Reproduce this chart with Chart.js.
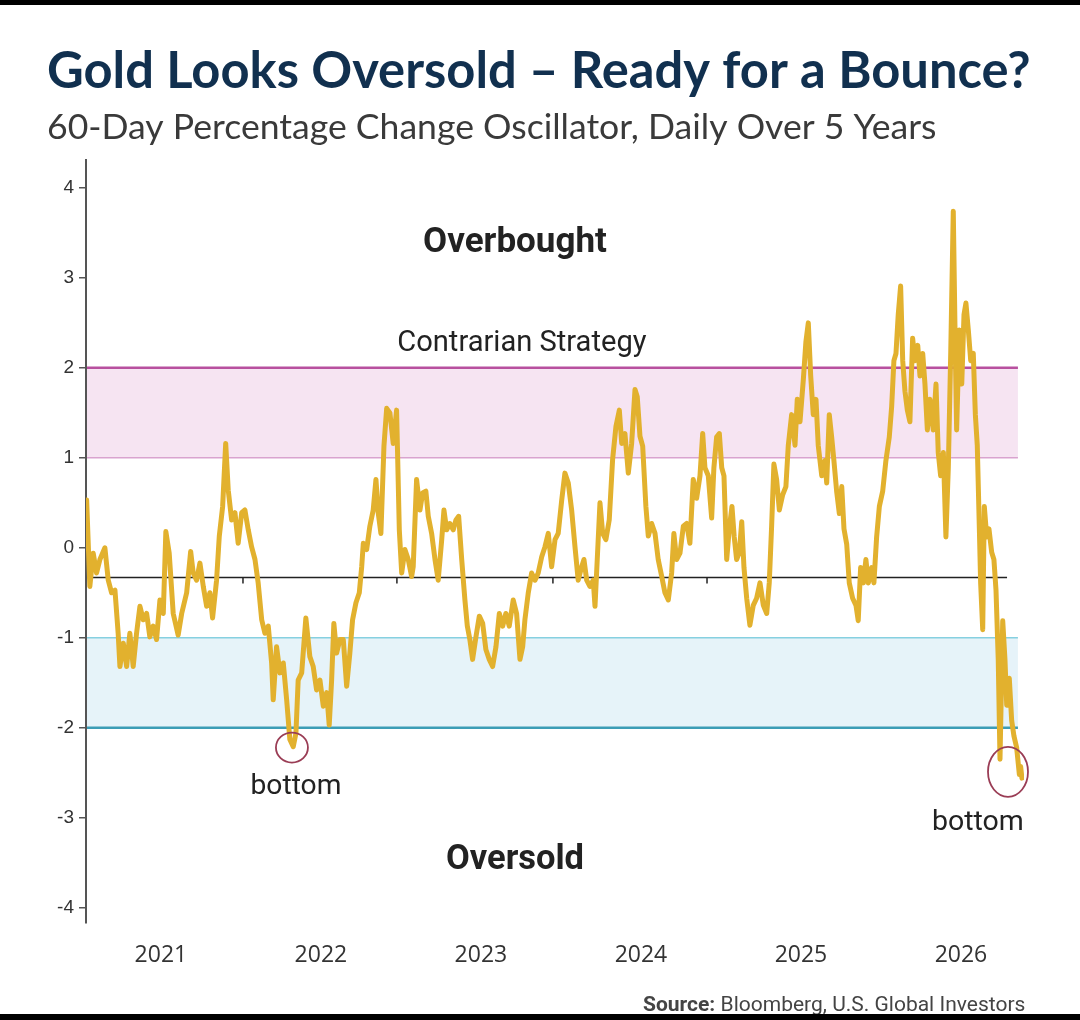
<!DOCTYPE html>
<html>
<head>
<meta charset="utf-8">
<title>Gold Looks Oversold</title>
<script src="https://cdn.jsdelivr.net/npm/chart.js@4.4.1/dist/chart.umd.min.js"></script>
<style>
  html, body { margin: 0; padding: 0; background: #fff; }
  #wrap { width: 1080px; height: 1020px; }
</style>
</head>
<body>
<div id="wrap"><canvas id="goldChart" width="1080" height="1020"></canvas></div>
<script>
'use strict';

// decimal years
var years = [
  2020.536, 2020.556, 2020.577, 2020.598, 2020.619, 2020.650, 2020.671, 2020.692, 2020.713, 2020.733,
  2020.744, 2020.765, 2020.786, 2020.806, 2020.827, 2020.848, 2020.869, 2020.890, 2020.911, 2020.931,
  2020.952, 2020.973, 2020.994, 2021.015, 2021.031, 2021.052, 2021.077, 2021.108, 2021.130, 2021.161,
  2021.186, 2021.202, 2021.223, 2021.244, 2021.265, 2021.286, 2021.306, 2021.323, 2021.348, 2021.365,
  2021.386, 2021.405, 2021.421, 2021.442, 2021.463, 2021.483, 2021.505, 2021.525, 2021.546, 2021.567,
  2021.588, 2021.608, 2021.630, 2021.650, 2021.671, 2021.692, 2021.702, 2021.723, 2021.744, 2021.765,
  2021.786, 2021.806, 2021.827, 2021.844, 2021.858, 2021.880, 2021.906, 2021.931, 2021.952, 2021.973,
  2021.994, 2022.015, 2022.036, 2022.052, 2022.067, 2022.081, 2022.098, 2022.119, 2022.140, 2022.161,
  2022.181, 2022.198, 2022.219, 2022.240, 2022.255, 2022.265, 2022.286, 2022.306, 2022.327, 2022.344,
  2022.358, 2022.375, 2022.394, 2022.411, 2022.431, 2022.452, 2022.473, 2022.490, 2022.505, 2022.525,
  2022.546, 2022.567, 2022.577, 2022.598, 2022.619, 2022.636, 2022.656, 2022.671, 2022.692, 2022.713,
  2022.733, 2022.755, 2022.769, 2022.786, 2022.806, 2022.827, 2022.844, 2022.861, 2022.880, 2022.900,
  2022.915, 2022.931, 2022.948, 2022.969, 2022.990, 2023.011, 2023.031, 2023.052, 2023.073, 2023.094,
  2023.115, 2023.136, 2023.156, 2023.177, 2023.202, 2023.223, 2023.244, 2023.261, 2023.275, 2023.296,
  2023.317, 2023.338, 2023.358, 2023.380, 2023.400, 2023.421, 2023.442, 2023.463, 2023.483, 2023.505,
  2023.525, 2023.546, 2023.567, 2023.588, 2023.608, 2023.630, 2023.644, 2023.661, 2023.681, 2023.702,
  2023.713, 2023.727, 2023.744, 2023.761, 2023.781, 2023.802, 2023.823, 2023.844, 2023.865, 2023.880,
  2023.900, 2023.921, 2023.942, 2023.963, 2023.977, 2023.994, 2024.011, 2024.031, 2024.046, 2024.067,
  2024.088, 2024.108, 2024.130, 2024.150, 2024.171, 2024.192, 2024.206, 2024.223, 2024.244, 2024.265,
  2024.286, 2024.306, 2024.327, 2024.348, 2024.369, 2024.386, 2024.400, 2024.421, 2024.442, 2024.456,
  2024.473, 2024.490, 2024.505, 2024.519, 2024.536, 2024.552, 2024.569, 2024.583, 2024.598, 2024.615,
  2024.630, 2024.644, 2024.661, 2024.681, 2024.702, 2024.723, 2024.744, 2024.765, 2024.786, 2024.802,
  2024.817, 2024.831, 2024.848, 2024.865, 2024.886, 2024.906, 2024.921, 2024.942, 2024.963, 2024.977,
  2024.994, 2025.015, 2025.031, 2025.046, 2025.061, 2025.077, 2025.094, 2025.108, 2025.130, 2025.150,
  2025.161, 2025.177, 2025.192, 2025.206, 2025.223, 2025.240, 2025.255, 2025.269, 2025.286, 2025.302,
  2025.323, 2025.344, 2025.358, 2025.373, 2025.390, 2025.406, 2025.421, 2025.442, 2025.456, 2025.473,
  2025.490, 2025.511, 2025.531, 2025.552, 2025.567, 2025.581, 2025.594, 2025.608, 2025.623, 2025.636,
  2025.650, 2025.665, 2025.681, 2025.698, 2025.713, 2025.730, 2025.744, 2025.761, 2025.775, 2025.790,
  2025.806, 2025.827, 2025.844, 2025.858, 2025.873, 2025.890, 2025.906, 2025.921, 2025.936, 2025.952,
  2025.965, 2025.973, 2025.990, 2026.005, 2026.019, 2026.031, 2026.046, 2026.061, 2026.077, 2026.090,
  2026.102, 2026.115, 2026.123, 2026.136, 2026.146, 2026.161, 2026.175, 2026.192, 2026.206, 2026.219,
  2026.233, 2026.244, 2026.261, 2026.275, 2026.286, 2026.302, 2026.317, 2026.331, 2026.348, 2026.365,
  2026.373, 2026.381
];

// 60-day % change oscillator
var oscillator = [
  0.53, -0.43, -0.06, -0.28, -0.13, 0.00, -0.36, -0.50, -0.47, -0.95,
  -1.32, -1.06, -1.32, -0.95, -1.32, -0.95, -0.65, -0.80, -0.73, -0.99,
  -0.87, -1.02, -0.58, -0.73, 0.18, -0.06, -0.73, -0.97, -0.73, -0.50,
  -0.04, -0.28, -0.36, -0.17, -0.43, -0.65, -0.50, -0.78, -0.36, 0.13,
  0.46, 1.16, 0.64, 0.31, 0.39, 0.05, 0.39, 0.42, 0.20, 0.01,
  -0.13, -0.39, -0.80, -0.95, -0.87, -1.28, -1.69, -1.10, -1.39, -1.28,
  -1.69, -2.13, -2.21, -2.06, -1.47, -1.39, -0.78, -1.21, -1.32, -1.58,
  -1.47, -1.76, -1.61, -1.97, -1.47, -0.84, -1.17, -1.02, -1.02, -1.54,
  -1.17, -0.80, -0.61, -0.50, -0.21, 0.05, -0.02, 0.24, 0.42, 0.76,
  0.39, 0.16, 1.13, 1.55, 1.50, 1.16, 1.53, 0.20, -0.28, -0.02,
  -0.13, -0.32, -0.21, 0.76, 0.42, 0.61, 0.63, 0.35, 0.16, -0.13,
  -0.36, 0.09, 0.42, 0.20, 0.27, 0.20, 0.31, 0.35, -0.13, -0.58,
  -0.87, -1.02, -1.24, -0.99, -0.76, -0.84, -1.13, -1.24, -1.32, -1.10,
  -0.73, -0.87, -0.73, -0.87, -0.58, -0.73, -1.24, -1.10, -0.80, -0.50,
  -0.28, -0.36, -0.28, -0.10, 0.01, 0.16, -0.21, 0.09, 0.16, 0.53,
  0.83, 0.72, 0.42, 0.01, -0.36, -0.21, -0.13, -0.36, -0.43, -0.36,
  -0.65, -0.13, 0.50, 0.16, 0.09, 0.31, 0.98, 1.35, 1.53, 1.16,
  1.27, 0.83, 1.16, 1.76, 1.68, 1.24, 1.13, 0.46, 0.13, 0.27,
  0.16, -0.13, -0.32, -0.50, -0.58, -0.28, 0.16, -0.13, -0.06, 0.24,
  0.27, 0.05, 0.76, 0.55, 0.80, 1.27, 0.89, 0.80, 0.33, 0.89,
  1.23, 1.27, 0.89, 0.80, -0.13, 0.21, 0.46, 0.12, -0.13, -0.05,
  0.29, -0.22, -0.56, -0.86, -0.64, -0.56, -0.39, -0.64, -0.73, -0.39,
  0.25, 0.93, 0.76, 0.42, 0.59, 0.68, 1.14, 1.48, 1.14, 1.65,
  1.40, 1.87, 2.29, 2.50, 1.91, 1.48, 1.65, 1.14, 0.80, 0.97,
  0.72, 1.48, 1.23, 0.97, 0.63, 0.38, 0.68, 0.21, 0.04, -0.39,
  -0.56, -0.64, -0.81, -0.22, -0.39, -0.13, -0.39, -0.22, -0.39, 0.12,
  0.46, 0.63, 0.97, 1.23, 1.57, 2.08, 2.16, 2.59, 2.91, 2.08,
  1.74, 1.53, 1.40, 2.33, 2.08, 2.25, 1.91, 2.16, 1.82, 1.31,
  1.65, 1.31, 1.82, 1.06, 0.80, 1.06, 0.12, 0.89, 2.16, 3.74,
  2.16, 1.31, 2.42, 1.82, 2.59, 2.72, 2.42, 2.08, 2.16, 1.48,
  1.14, 0.21, -0.39, -0.91, 0.46, 0.12, 0.21, -0.05, -0.13, -0.47,
  -1.24, -2.35, -0.81, -1.24, -1.75, -1.45, -1.92, -2.09, -2.22, -2.52,
  -2.43, -2.56
];

var yearTicks = [2021, 2022, 2023, 2024, 2025, 2026];
var valueTicks = [-4, -3, -2, -1, 0, 1, 2, 3, 4];
var overboughtBand = [1, 2];
var oversoldBand = [-2, -1];
var baseLevel = -0.33;
var baseTickYears = [2021.513, 2022.475, 2023.450, 2024.413];

function fitFont(ctx, text, weight, family, width) {
    ctx.font = weight + ' 100px ' + family;
    var size = 100 * width / ctx.measureText(text).width;
    return weight + ' ' + size.toFixed(1) + 'px ' + family;
}

function hLine(ctx, x0, x1, y, color, width) {
    ctx.beginPath();
    ctx.moveTo(x0, y);
    ctx.lineTo(x1, y);
    ctx.strokeStyle = color;
    ctx.lineWidth = width;
    ctx.stroke();
}

var decor = {
    id: 'decor',
    beforeDatasetsDraw: function (chart) {
        var ctx = chart.ctx, xs = chart.scales.x, ys = chart.scales.y;
        var left = chart.chartArea.left + 1;
        var right = xs.getPixelForValue(2026.356);

        ctx.save();
        // overbought band
        var p2 = ys.getPixelForValue(overboughtBand[1]), p1 = ys.getPixelForValue(overboughtBand[0]);
        ctx.fillStyle = '#F6E4F2';
        ctx.fillRect(left, p2, right - left, p1 - p2);
        hLine(ctx, left, right, p1, '#D9A3CF', 1.5);
        hLine(ctx, left, right, p2, '#B8509F', 2.5);

        // oversold band
        var m1 = ys.getPixelForValue(oversoldBand[1]), m2 = ys.getPixelForValue(oversoldBand[0]);
        ctx.fillStyle = '#E6F3F9';
        ctx.fillRect(left, m1, right - left, m2 - m1);
        hLine(ctx, left, right, m1, '#86D0E0', 1.5);
        hLine(ctx, left, right, m2, '#3C9DB6', 2.5);

        // base line with small ticks
        var by = ys.getPixelForValue(baseLevel);
        hLine(ctx, left, xs.getPixelForValue(2026.288), by, '#222', 1.5);
        baseTickYears.forEach(function (t) {
            var px = xs.getPixelForValue(t);
            ctx.beginPath();
            ctx.moveTo(px, by);
            ctx.lineTo(px, by + 6);
            ctx.strokeStyle = '#222';
            ctx.lineWidth = 1.5;
            ctx.stroke();
        });
        ctx.restore();
    },
    afterDatasetsDraw: function (chart) {
        var ctx = chart.ctx, xs = chart.scales.x, ys = chart.scales.y;
        ctx.save();

        // bottom markers
        ctx.strokeStyle = '#9A3D55';
        ctx.lineWidth = 1.8;
        ctx.beginPath();
        ctx.ellipse(xs.getPixelForValue(2021.819), ys.getPixelForValue(-2.22), 16, 15, 0, 0, Math.PI * 2);
        ctx.stroke();
        ctx.beginPath();
        ctx.ellipse(xs.getPixelForValue(2026.294), ys.getPixelForValue(-2.49), 20, 25, 0, 0, Math.PI * 2);
        ctx.stroke();

        // notes
        var notes = [
            { text: 'Overbought', x: 2023.213, y: 3.39, weight: 'bold', width: 184 },
            { text: 'Contrarian Strategy', x: 2023.256, y: 2.27, weight: 'normal', width: 249 },
            { text: 'bottom', x: 2021.844, y: -2.66, weight: 'normal', width: 91 },
            { text: 'bottom', x: 2026.106, y: -3.06, weight: 'normal', width: 92 },
            { text: 'Oversold', x: 2023.213, y: -3.47, weight: 'bold', width: 138 }
        ];
        ctx.fillStyle = '#222';
        ctx.textAlign = 'center';
        ctx.textBaseline = 'middle';
        notes.forEach(function (n) {
            ctx.font = fitFont(ctx, n.text, n.weight, 'Roboto', n.width);
            ctx.fillText(n.text, xs.getPixelForValue(n.x), ys.getPixelForValue(n.y));
        });
        ctx.restore();
    },
    afterDraw: function (chart) {
        var ctx = chart.ctx;
        ctx.save();
        ctx.textAlign = 'left';
        ctx.textBaseline = 'alphabetic';

        var title = 'Gold Looks Oversold \u2013 Ready for a Bounce?';
        ctx.fillStyle = '#11304F';
        ctx.font = fitFont(ctx, title, 'bold', 'Lato', 983);
        ctx.fillText(title, 47, 88);

        var sub = '60-Day Percentage Change Oscillator, Daily Over 5 Years';
        ctx.fillStyle = '#3A3A3A';
        ctx.font = fitFont(ctx, sub, 'normal', 'Lato', 890);
        ctx.fillText(sub, 47, 139);

        // source line
        var s1 = 'Source:', s2 = ' Bloomberg, U.S. Global Investors';
        ctx.font = 'bold 100px Roboto';
        var w1 = ctx.measureText(s1).width;
        ctx.font = 'normal 100px Roboto';
        var w2 = ctx.measureText(s2).width;
        var size = 100 * 383 / (w1 + w2);
        var sx = 1026 - 383;
        ctx.fillStyle = '#444';
        ctx.font = 'bold ' + size.toFixed(1) + 'px Roboto';
        ctx.fillText(s1, sx, 1011);
        ctx.font = 'normal ' + size.toFixed(1) + 'px Roboto';
        ctx.fillText(s2, sx + w1 * size / 100, 1011);

        // black frame edges
        ctx.fillStyle = '#000';
        ctx.fillRect(0, 0, 1080, 5);
        ctx.fillRect(0, 1014, 1080, 6);
        ctx.restore();
    }
};

var ctx = document.getElementById('goldChart').getContext('2d');

var goldChart = new Chart(ctx, {
    type: 'line',
    data: {
        datasets: [{
            label: 'Gold 60-day oscillator',
            data: years.map(function (t, i) { return { x: t, y: oscillator[i] }; }),
            borderColor: '#E2B12E',
            borderWidth: 5,
            borderJoinStyle: 'round',
            borderCapStyle: 'round',
            pointRadius: 0,
            tension: 0,
            fill: false
        }]
    },
    options: {
        responsive: false,
        animation: false,
        layout: { padding: { top: 160, right: 56, left: 0, bottom: 0 } },
        plugins: {
            legend: { display: false },
            tooltip: { enabled: false }
        },
        scales: {
            x: {
                type: 'linear',
                min: 2020.532,
                max: 2026.394,
                afterBuildTicks: function (scale) {
                    scale.ticks = yearTicks.map(function (v) { return { value: v }; });
                },
                afterFit: function (scale) { scale.height = 97; },
                ticks: {
                    autoSkip: false,
                    maxRotation: 0,
                    padding: 11,
                    color: '#333',
                    font: { family: 'Open Sans', size: 23 },
                    callback: function (v) { return String(v); }
                },
                grid: { display: false },
                border: { display: false }
            },
            y: {
                min: -4.17,
                max: 4.31,
                afterBuildTicks: function (scale) {
                    scale.ticks = valueTicks.map(function (v) { return { value: v }; });
                },
                afterFit: function (scale) { scale.width = 86; },
                ticks: {
                    padding: 5,
                    color: '#333',
                    font: { family: 'Liberation Sans', size: 19 }
                },
                grid: {
                    drawOnChartArea: false,
                    drawTicks: true,
                    tickLength: 7,
                    color: '#555',
                    lineWidth: 1.5
                },
                border: { display: true, color: '#555', width: 2 }
            }
        }
    },
    plugins: [decor]
});
</script>
</body>
</html>
